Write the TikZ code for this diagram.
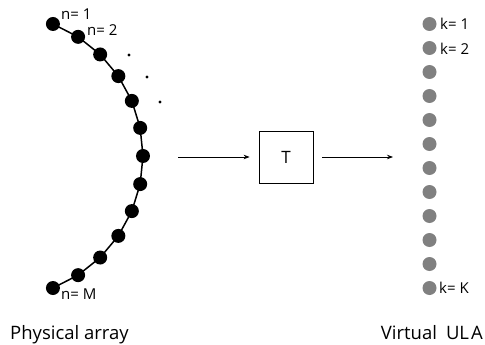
\documentclass[tikz,border=0pt]{standalone}
\usepackage{fontspec}
\setmainfont{Open Sans}
\usetikzlibrary{arrows.meta}
\begin{document}
\begin{tikzpicture}[x=1pt,y=-1pt,
  physdot/.style={circle,fill=black,inner sep=0pt,minimum size=14pt},
  virtdot/.style={circle,fill=black!50,inner sep=0pt,minimum size=14pt},
  gapdot/.style={circle,fill=black,inner sep=0pt,minimum size=3.2pt},
  lbl/.style={font=\fontsize{15}{17}\selectfont,inner sep=0pt},
  caption/.style={font=\fontsize{18.5}{22}\selectfont,inner sep=0pt},
  flow/.style={line width=0.8pt,-{Stealth[length=6pt,width=4.5pt]}}]
\useasboundingbox (0,0) rectangle (485,345);

% physical array: 13 sensors on a circular arc
\foreach \i in {1,...,13} {
  \pgfmathsetmacro\ang{68.6-(\i-1)*11.433}
  \node[physdot] (p\i) at ({1.2+141.8*cos(\ang)},{156-141.8*sin(\ang)}) {};
}
\foreach \i [count=\j from 2] in {1,...,12}
  \draw[line width=1.5pt] (p\i.center) -- (p\j.center);

% ellipsis dots beside the arc
\node[gapdot] (g1) at (129,55) {};
\node[gapdot] (g2) at (147,77) {};
\node[gapdot] (g3) at (160,102) {};

\node[lbl,anchor=west] (n1) at (61,14) {n= 1};
\node[lbl,anchor=west] (n2) at (87,30) {n= 2};
\node[lbl,anchor=west] (nM) at (61,294) {n= M};

% transformation block
\node[draw,line width=0.8pt,minimum width=54pt,minimum height=52pt,
      inner sep=0pt,font=\fontsize{17}{20}\selectfont] (T) at (286,157) {T};
\coordinate (in) at (178,157);
\coordinate (out) at (393,157);
\draw[flow,shorten >=9pt] (in) -- (T.west);
\draw[flow,shorten <=9pt] (T.east) -- (out);

% virtual uniform linear array
\foreach \i in {1,...,12}
  \node[virtdot] (v\i) at (429.5,{24+24*(\i-1)}) {};

\node[lbl,anchor=west] (k1) at (440,24) {k= 1};
\node[lbl,anchor=west] (k2) at (440,49) {k= 2};
\node[lbl,anchor=west] (kK) at (439,288) {k= K};

% captions
\node[caption,anchor=base west] (phys) at (10,339) {Physical array};
\node[caption,anchor=base east] (virt) at (483,339) {Virtual\hspace{9pt}UL\hspace{2pt}A};
\end{tikzpicture}
\end{document}
